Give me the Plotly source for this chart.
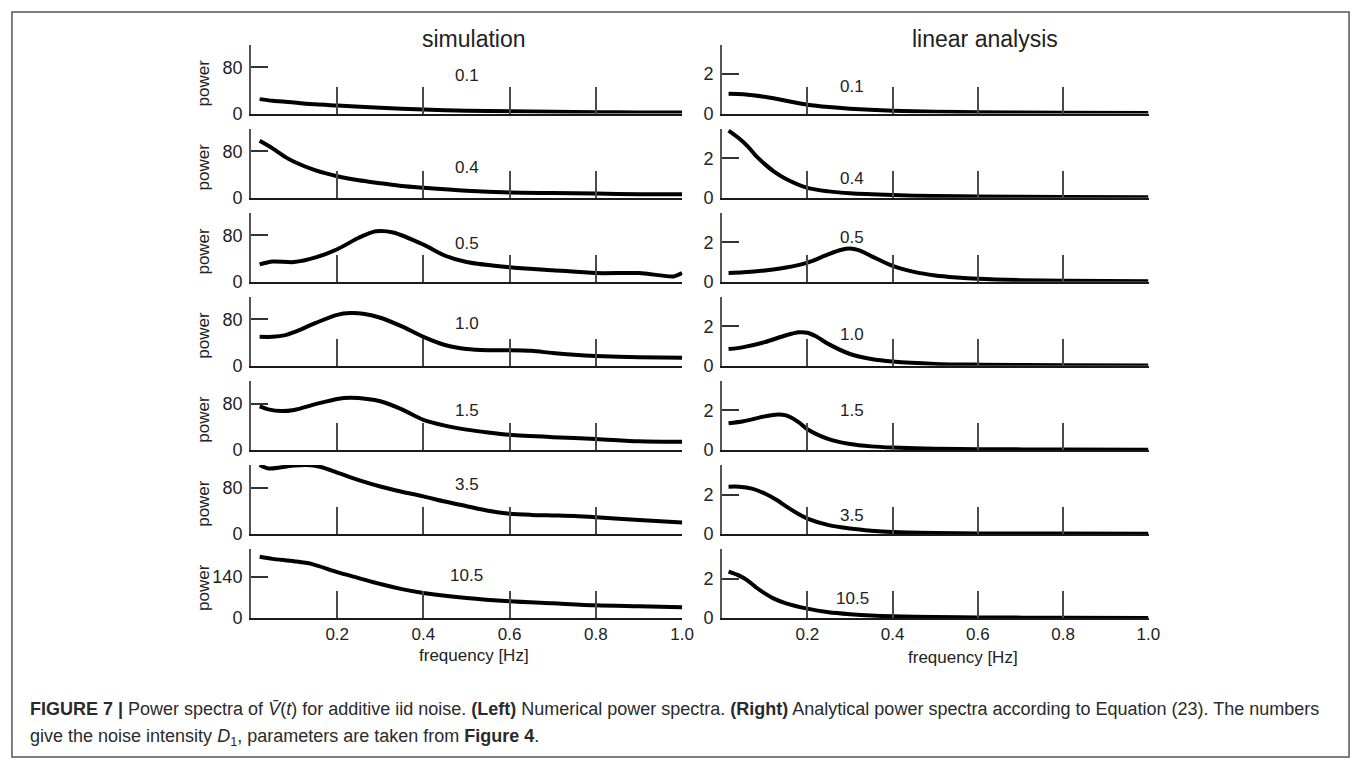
import plotly.graph_objects as go
from plotly.subplots import make_subplots

W, H = 1359, 763

noise_labels = ["0.1", "0.4", "0.5", "1.0", "1.5", "3.5", "10.5"]
col_titles = ["simulation", "linear analysis"]
x_tick_vals = [0.2, 0.4, 0.6, 0.8, 1.0]
x_tick_text = ["0.2", "0.4", "0.6", "0.8", "1.0"]
sim_y_ticks = [[0, 80]] * 6 + [[0, 140]]
lin_y_ticks = [[0, 2]] * 7

# ---- simulation (left column) ----
sim1_f = [0.02, 0.05, 0.1, 0.15, 0.2, 0.3, 0.4, 0.5, 0.6, 0.7, 0.8, 0.9, 1.0]
sim1_p = [25, 22, 19, 16, 14, 10, 7, 5, 4, 3, 2.5, 2, 2]
sim2_f = [0.02, 0.05, 0.08, 0.1, 0.15, 0.2, 0.25, 0.3, 0.35, 0.4, 0.5, 0.6, 0.7, 0.8, 0.9, 1.0]
sim2_p = [98, 85, 70, 62, 47, 37, 30, 25, 20, 17, 12, 9, 8, 7, 6, 6]
sim3_f = [0.02, 0.05, 0.1, 0.15, 0.2, 0.25, 0.29, 0.33, 0.4, 0.45, 0.5, 0.6, 0.7, 0.8, 0.9, 0.95, 0.98, 1.0]
sim3_p = [30, 35, 34, 42, 56, 76, 87, 85, 64, 45, 34, 25, 20, 15, 15, 11, 9, 15]
sim4_f = [0.02, 0.05, 0.08, 0.1, 0.15, 0.2, 0.23, 0.26, 0.3, 0.35, 0.4, 0.45, 0.5, 0.55, 0.6, 0.65, 0.7, 0.75, 0.8, 0.9, 1.0]
sim4_p = [50, 50, 53, 58, 74, 88, 91, 90, 83, 68, 50, 36, 29, 27, 27, 26, 22, 19, 17, 15, 14]
sim5_f = [0.02, 0.04, 0.07, 0.1, 0.15, 0.2, 0.23, 0.27, 0.3, 0.35, 0.4, 0.45, 0.5, 0.55, 0.6, 0.7, 0.8, 0.9, 1.0]
sim5_p = [75, 70, 67, 69, 79, 88, 90, 88, 84, 70, 52, 42, 35, 30, 26, 22, 19, 15, 14]
sim6_f = [0.02, 0.04, 0.07, 0.1, 0.13, 0.16, 0.2, 0.25, 0.3, 0.35, 0.4, 0.45, 0.5, 0.55, 0.6, 0.65, 0.7, 0.75, 0.8, 0.9, 1.0]
sim6_p = [119, 113, 115, 118, 119, 116, 106, 93, 82, 73, 65, 56, 48, 40, 35, 33, 32, 31, 29, 24, 20]
sim7_f = [0.02, 0.05, 0.1, 0.14, 0.2, 0.25, 0.3, 0.35, 0.4, 0.5, 0.6, 0.7, 0.8, 0.9, 1.0]
sim7_p = [207, 200, 192, 183, 155, 135, 115, 98, 85, 68, 57, 50, 43, 40, 37]

# ---- linear analysis (right column) ----
lin1_f = [0.015, 0.05, 0.1, 0.15, 0.2, 0.25, 0.3, 0.4, 0.5, 0.6, 0.8, 1.0]
lin1_p = [1.0, 0.98, 0.85, 0.65, 0.45, 0.33, 0.25, 0.15, 0.1, 0.07, 0.04, 0.03]
lin2_f = [0.015, 0.04, 0.06, 0.08, 0.1, 0.12, 0.15, 0.2, 0.25, 0.3, 0.4, 0.5, 0.6, 0.8, 1.0]
lin2_p = [3.4, 3.0, 2.6, 2.1, 1.7, 1.35, 0.95, 0.5, 0.32, 0.22, 0.13, 0.08, 0.06, 0.03, 0.02]
lin3_f = [0.015, 0.05, 0.1, 0.15, 0.2, 0.25, 0.28, 0.3, 0.32, 0.35, 0.4, 0.45, 0.5, 0.55, 0.6, 0.7, 0.8, 1.0]
lin3_p = [0.45, 0.48, 0.57, 0.72, 0.97, 1.4, 1.62, 1.68, 1.6, 1.3, 0.8, 0.5, 0.32, 0.22, 0.15, 0.08, 0.05, 0.02]
lin4_f = [0.015, 0.05, 0.1, 0.15, 0.18, 0.2, 0.22, 0.25, 0.3, 0.35, 0.4, 0.5, 0.6, 0.8, 1.0]
lin4_p = [0.85, 0.95, 1.2, 1.55, 1.7, 1.68, 1.5, 1.1, 0.6, 0.35, 0.22, 0.1, 0.06, 0.03, 0.02]
lin5_f = [0.015, 0.05, 0.1, 0.13, 0.15, 0.18, 0.2, 0.25, 0.3, 0.35, 0.4, 0.5, 0.6, 0.8, 1.0]
lin5_p = [1.35, 1.45, 1.7, 1.8, 1.75, 1.4, 1.05, 0.55, 0.3, 0.18, 0.12, 0.06, 0.04, 0.02, 0.01]
lin6_f = [0.015, 0.04, 0.07, 0.1, 0.13, 0.15, 0.18, 0.2, 0.25, 0.3, 0.35, 0.4, 0.5, 0.6, 0.8, 1.0]
lin6_p = [2.4, 2.4, 2.3, 2.05, 1.7, 1.4, 1.0, 0.78, 0.45, 0.28, 0.17, 0.1, 0.05, 0.03, 0.02, 0.01]
lin7_f = [0.015, 0.04, 0.06, 0.08, 0.1, 0.12, 0.15, 0.2, 0.25, 0.3, 0.35, 0.4, 0.5, 0.6, 0.8, 1.0]
lin7_p = [2.35, 2.15, 1.9, 1.55, 1.25, 1.0, 0.75, 0.48, 0.3, 0.2, 0.13, 0.09, 0.05, 0.03, 0.02, 0.01]

sim_series = [(sim1_f, sim1_p), (sim2_f, sim2_p), (sim3_f, sim3_p), (sim4_f, sim4_p),
              (sim5_f, sim5_p), (sim6_f, sim6_p), (sim7_f, sim7_p)]
lin_series = [(lin1_f, lin1_p), (lin2_f, lin2_p), (lin3_f, lin3_p), (lin4_f, lin4_p),
              (lin5_f, lin5_p), (lin6_f, lin6_p), (lin7_f, lin7_p)]

# ---- layout geometry (pixels) ----
FONT = "Liberation Sans"
CAP_FONT = "Liberation Sans"
col_x = [(245, 680), (720, 1150)]
base0, step, ax_h = 107, 85.2, 70
px_per_tick = [47, 40]  # pixel height of the labelled tick
sim_label_y = [39, 31, 39, 43, 40, 50, 43]
lin_label_y = [27, 19, 45, 32, 40, 19, 20]
lin_label_x = 0.305


def pxx(x):
    return x / W


def pxy(y):
    return 1 - y / H


def ann(x, y, text, size, xanchor="center", angle=0, family=FONT, xref="paper", yref="paper", color="#222"):
    return dict(x=x, y=y, xref=xref, yref=yref, text=text, showarrow=False, textangle=angle,
                xanchor=xanchor, yanchor="middle", font=dict(family=family, size=size, color=color))


fig = make_subplots(rows=7, cols=2)

for c, series in enumerate([sim_series, lin_series]):
    for r, (f, p) in enumerate(series):
        fig.add_trace(go.Scatter(x=f, y=p, mode="lines",
                                 line=dict(color="black", width=4, shape="spline", smoothing=0.8),
                                 showlegend=False, hoverinfo="skip"), row=r + 1, col=c + 1)

annotations = []
for c in range(2):
    for r in range(7):
        idx = r * 2 + c + 1
        sfx = "" if idx == 1 else str(idx)
        b = base0 + step * r
        top = b - ax_h
        ticks = sim_y_ticks[r] if c == 0 else lin_y_ticks[r]
        ymax = ticks[1] * ax_h / (px_per_tick[c] if not (c == 0 and r == 6) else 42)
        fig.layout["xaxis" + sfx].update(
            domain=[pxx(col_x[c][0]), pxx(col_x[c][1])], range=[0, 1.001],
            showline=True, linecolor="#1a1a1a", linewidth=2, showgrid=False, zeroline=False,
            ticks="inside", ticklen=27, tickwidth=1.6, tickcolor="#4a4a4a",
            tickvals=x_tick_vals, ticktext=x_tick_text, showticklabels=(r == 6),
            tickfont=dict(family=FONT, size=17, color="#222"), ticklabelstandoff=0)
        fig.layout["yaxis" + sfx].update(
            domain=[pxy(b), pxy(top)], range=[0, ymax],
            showline=True, linecolor="#555", linewidth=2, showgrid=False, zeroline=False,
            ticks="inside", ticklen=17, tickwidth=2, tickcolor="#333",
            tickvals=ticks, ticktext=[str(t) for t in ticks],
            tickfont=dict(family=FONT, size=18, color="#222"), ticklabelstandoff=3)
        if c == 0:
            annotations.append(ann(0.5, sim_label_y[r] / ax_h, noise_labels[r], 17,
                                   xref="x" + sfx + " domain", yref="y" + sfx + " domain"))
            annotations.append(ann(pxx(197), pxy(b - 31), "power", 17, angle=-90))
        else:
            annotations.append(ann(lin_label_x, lin_label_y[r] / ax_h, noise_labels[r], 17,
                                   xref="x" + sfx + " domain", yref="y" + sfx + " domain"))

# column titles
annotations.append(ann(pxx(470), pxy(31), col_titles[0], 23))
annotations.append(ann(pxx(985), pxy(31), col_titles[1], 23))
# x axis titles
annotations.append(ann(pxx(470), pxy(656), "frequency [Hz]", 17))
annotations.append(ann(pxx(963), pxy(658), "frequency [Hz]", 17))
# caption
cap1 = ("<b>FIGURE 7 |</b> Power spectra of <i>V\u0304</i>(<i>t</i>) for additive iid noise. <b>(Left)</b> Numerical power spectra. "
        "<b>(Right)</b> Analytical power spectra according to Equation (23). The numbers")
cap2 = "give the noise intensity <i>D</i><sub>1</sub>, parameters are taken from <b>Figure 4</b>."
annotations.append(ann(pxx(20), pxy(710), cap1, 18, xanchor="left", family=CAP_FONT, color="#2a2a2a"))
annotations.append(ann(pxx(20), pxy(739), cap2, 18, xanchor="left", family=CAP_FONT, color="#2a2a2a"))

fig.update_layout(
    width=W, height=H, margin=dict(l=0, r=0, t=0, b=0),
    paper_bgcolor="white", plot_bgcolor="white", showlegend=False,
    annotations=annotations,
    shapes=[dict(type="rect", xref="paper", yref="paper", x0=pxx(4), x1=pxx(1352), y0=pxy(759), y1=pxy(4),
                 line=dict(color="#555", width=1.5))])

fig.write_html("out.html")
